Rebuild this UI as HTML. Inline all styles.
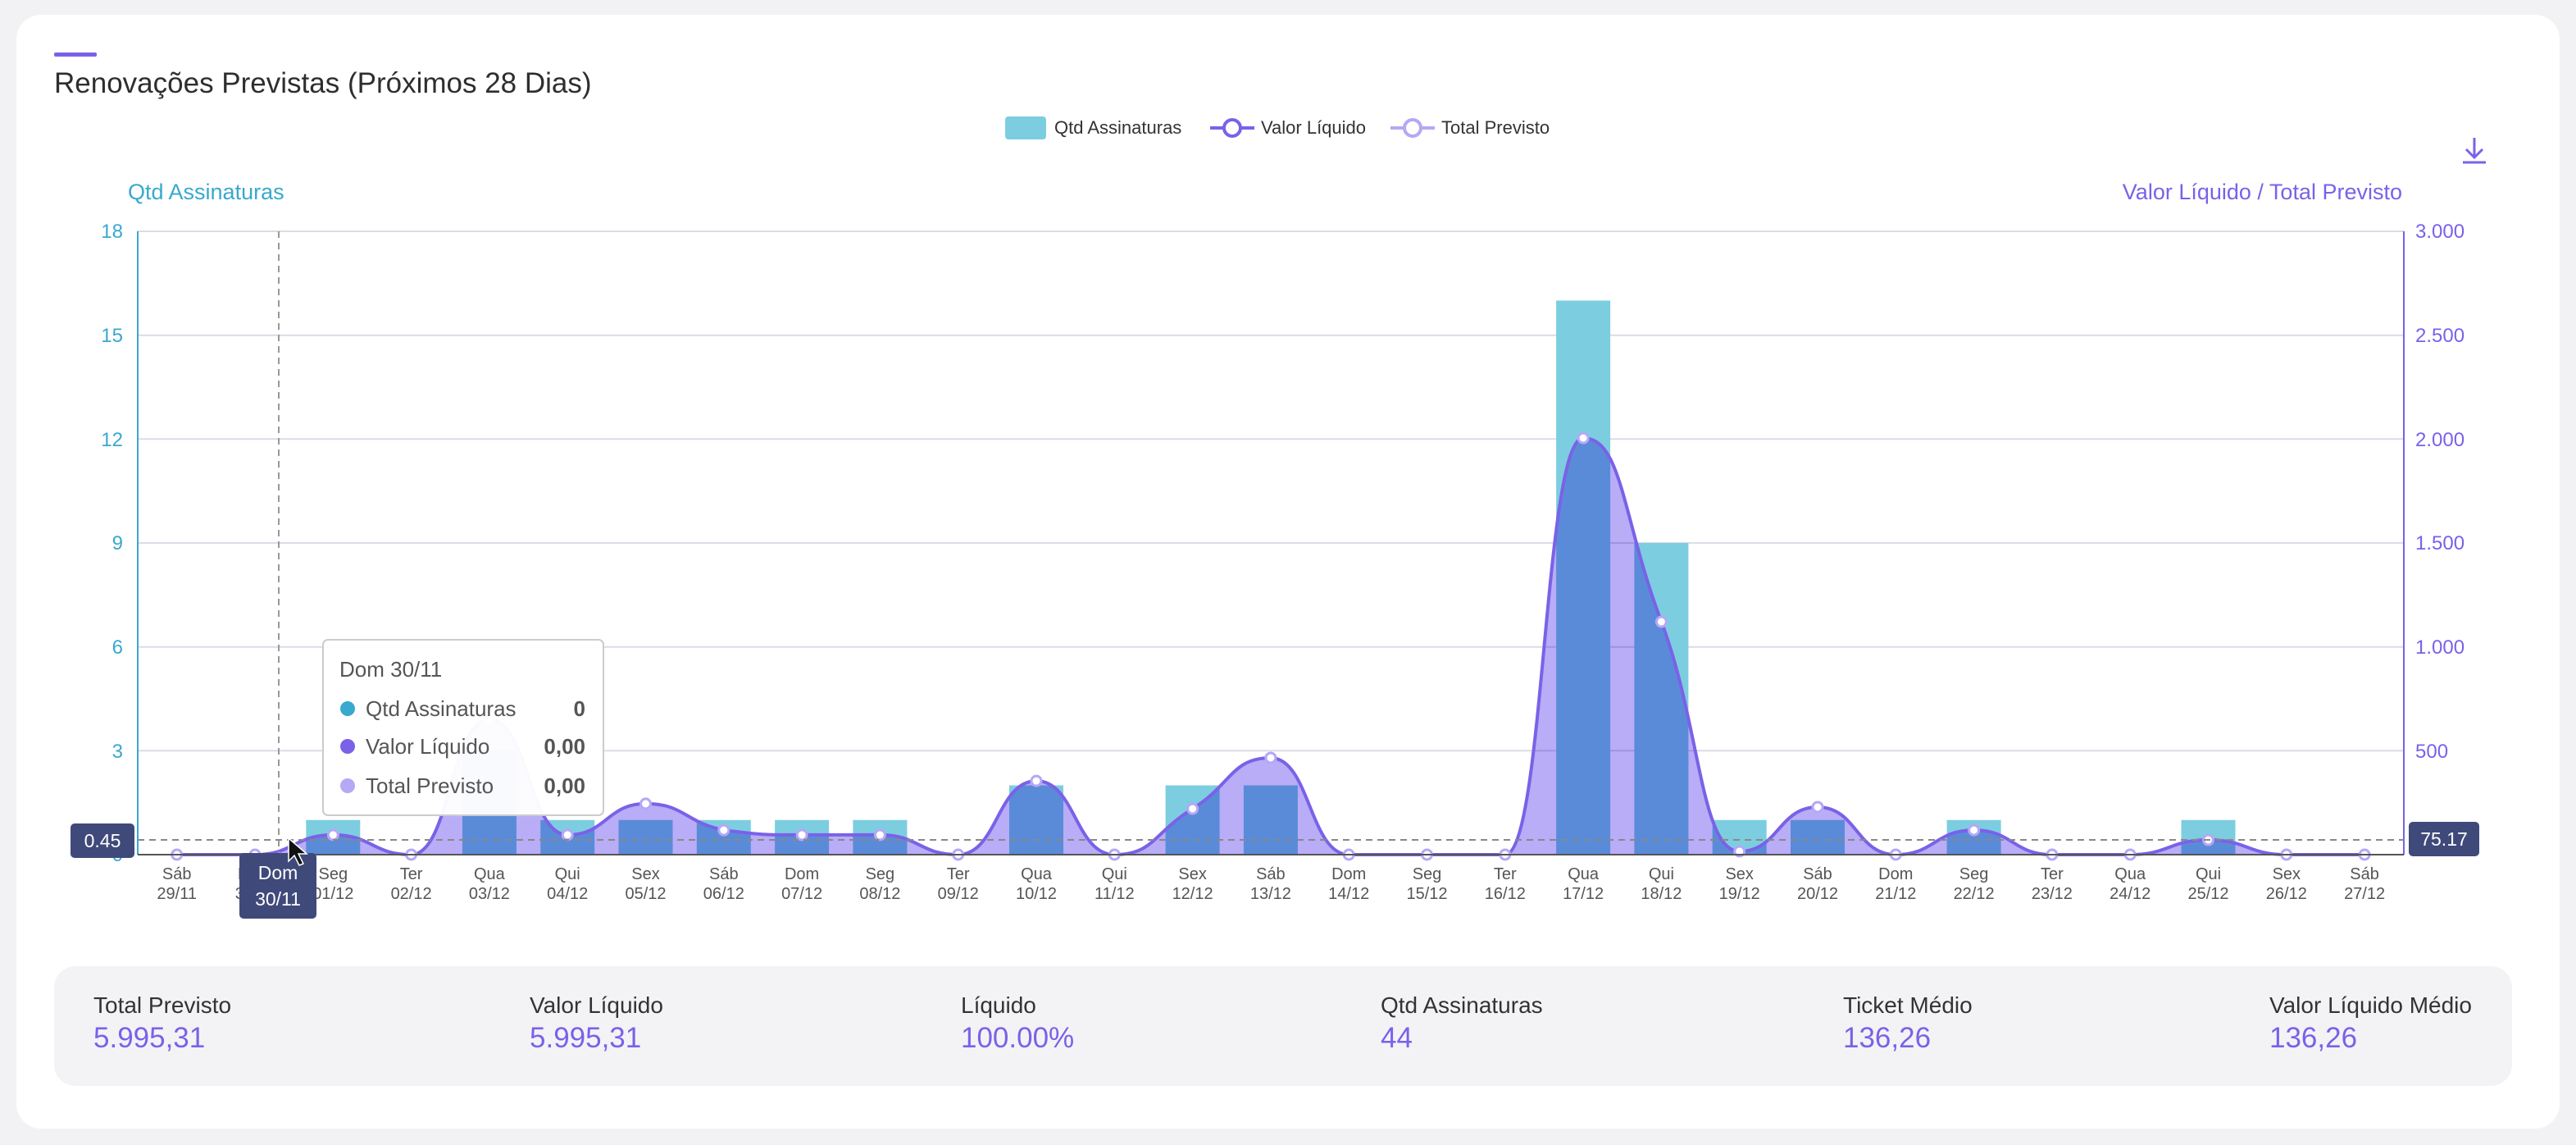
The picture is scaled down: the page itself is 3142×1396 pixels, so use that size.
<!DOCTYPE html>
<html><head><meta charset="utf-8">
<style>
html,body{margin:0;padding:0;width:3142px;height:1396px;background:#f2f2f4;overflow:hidden;font-family:"Liberation Sans",sans-serif;}
.card{position:absolute;left:20px;top:18px;width:3102px;height:1358px;background:#fff;border-radius:30px;}
.bar{position:absolute;left:66px;top:64px;width:52px;height:5px;background:#7b61e8;border-radius:2px;}
.title{position:absolute;left:66px;top:82px;font-size:35px;color:#2e2e2e;}
.sum{position:absolute;left:66px;top:1178px;width:2998px;height:146px;background:#f3f3f6;border-radius:26px;}
.it{position:absolute;top:32px;}
.it .l{font-size:28px;color:#333;}
.it .v{font-size:35px;color:#7b61e8;margin-top:4px;}
svg{position:absolute;left:0;top:0;}
</style></head><body>
<div class="card"></div>
<div class="bar"></div>
<div class="title">Renovações Previstas (Próximos 28 Dias)</div>
<svg id="s" width="3142" height="1396" viewBox="0 0 3142 1396" font-family="Liberation Sans, sans-serif">
<rect x="0" y="0" width="0" height="0"/>
<g id="grid" stroke="#dcdce6" stroke-width="2">
<line x1="168" x2="2932" y1="282" y2="282"/><line x1="168" x2="2932" y1="408.7" y2="408.7"/>
<line x1="168" x2="2932" y1="535.3" y2="535.3"/><line x1="168" x2="2932" y1="662" y2="662"/>
<line x1="168" x2="2932" y1="788.7" y2="788.7"/><line x1="168" x2="2932" y1="915.3" y2="915.3"/>
</g>
<g id="bars"></g>
<path id="area" fill="#b8adf6" stroke="none" style="mix-blend-mode:multiply"/>
<path id="line" fill="none" stroke="#7b61e8" stroke-width="4"/>
<g id="dots"></g>
<line x1="168" x2="168" y1="282" y2="1042" stroke="#3aa8cf" stroke-width="2"/>
<line x1="2932" x2="2932" y1="282" y2="1042" stroke="#7b61e8" stroke-width="2"/>
<line x1="168" x2="2932" y1="1042" y2="1042" stroke="#555" stroke-width="2"/>
<line x1="340" x2="340" y1="282" y2="1042" stroke="#999" stroke-width="2" stroke-dasharray="8,6"/>
<line x1="168" x2="2932" y1="1024" y2="1024" stroke="#888" stroke-width="2" stroke-dasharray="8,6"/>
<g font-size="24" fill="#3aa8cf" text-anchor="end">
<text x="150" y="290">18</text><text x="150" y="417">15</text><text x="150" y="544">12</text><text x="150" y="670">9</text><text x="150" y="797">6</text><text x="150" y="924">3</text><text x="150" y="1050">0</text>
</g>
<g font-size="24" fill="#7b61e8">
<text x="2946" y="290">3.000</text><text x="2946" y="417">2.500</text><text x="2946" y="544">2.000</text><text x="2946" y="670">1.500</text><text x="2946" y="797">1.000</text><text x="2946" y="924">500</text>
</g>
<text x="156" y="243" font-size="27" fill="#3aa8cf">Qtd Assinaturas</text>
<text x="2930" y="243" font-size="27" fill="#7b61e8" text-anchor="end">Valor Líquido / Total Previsto</text>
<g font-size="22" fill="#333">
<rect x="1226" y="142" width="50" height="28" rx="4" fill="#7ccde0"/>
<text x="1286" y="163">Qtd Assinaturas</text>
<line x1="1476" x2="1530" y1="156" y2="156" stroke="#7b61e8" stroke-width="4"/><circle cx="1503" cy="156" r="10" fill="#fff" stroke="#7b61e8" stroke-width="4"/>
<text x="1538" y="163">Valor Líquido</text>
<line x1="1696" x2="1750" y1="156" y2="156" stroke="#b5a8f5" stroke-width="4"/><circle cx="1723" cy="156" r="10" fill="#fff" stroke="#b5a8f5" stroke-width="4"/>
<text x="1758" y="163">Total Previsto</text>
</g>
<g stroke="#7b61e8" stroke-width="3" fill="none"><path d="M3018 168v24M3008 182l10 10 10-10M3004 198h28"/></g>
<g font-size="20" fill="#555" text-anchor="middle" id="xl">
<text x="215.7" y="1072">Sáb</text><text x="215.7" y="1096">29/11</text>
<text x="311" y="1072">Dom</text><text x="311" y="1096">30/11</text>
<text x="406.3" y="1072">Seg</text><text x="406.3" y="1096">01/12</text>
<text x="501.6" y="1072">Ter</text><text x="501.6" y="1096">02/12</text>
<text x="596.9" y="1072">Qua</text><text x="596.9" y="1096">03/12</text>
<text x="692.2" y="1072">Qui</text><text x="692.2" y="1096">04/12</text>
<text x="787.5" y="1072">Sex</text><text x="787.5" y="1096">05/12</text>
<text x="882.8" y="1072">Sáb</text><text x="882.8" y="1096">06/12</text>
<text x="978.1" y="1072">Dom</text><text x="978.1" y="1096">07/12</text>
<text x="1073.4" y="1072">Seg</text><text x="1073.4" y="1096">08/12</text>
<text x="1168.7" y="1072">Ter</text><text x="1168.7" y="1096">09/12</text>
<text x="1264" y="1072">Qua</text><text x="1264" y="1096">10/12</text>
<text x="1359.3" y="1072">Qui</text><text x="1359.3" y="1096">11/12</text>
<text x="1454.6" y="1072">Sex</text><text x="1454.6" y="1096">12/12</text>
<text x="1549.9" y="1072">Sáb</text><text x="1549.9" y="1096">13/12</text>
<text x="1645.2" y="1072">Dom</text><text x="1645.2" y="1096">14/12</text>
<text x="1740.5" y="1072">Seg</text><text x="1740.5" y="1096">15/12</text>
<text x="1835.8" y="1072">Ter</text><text x="1835.8" y="1096">16/12</text>
<text x="1931.1" y="1072">Qua</text><text x="1931.1" y="1096">17/12</text>
<text x="2026.4" y="1072">Qui</text><text x="2026.4" y="1096">18/12</text>
<text x="2121.7" y="1072">Sex</text><text x="2121.7" y="1096">19/12</text>
<text x="2217" y="1072">Sáb</text><text x="2217" y="1096">20/12</text>
<text x="2312.3" y="1072">Dom</text><text x="2312.3" y="1096">21/12</text>
<text x="2407.6" y="1072">Seg</text><text x="2407.6" y="1096">22/12</text>
<text x="2502.9" y="1072">Ter</text><text x="2502.9" y="1096">23/12</text>
<text x="2598.2" y="1072">Qua</text><text x="2598.2" y="1096">24/12</text>
<text x="2693.5" y="1072">Qui</text><text x="2693.5" y="1096">25/12</text>
<text x="2788.8" y="1072">Sex</text><text x="2788.8" y="1096">26/12</text>
<text x="2884.1" y="1072">Sáb</text><text x="2884.1" y="1096">27/12</text>
</g>
<rect x="86" y="1004" width="78" height="42" rx="5" fill="#3f4a7a"/>
<text x="125" y="1033" font-size="23" fill="#fff" text-anchor="middle">0.45</text>
<rect x="2938" y="1002" width="86" height="42" rx="5" fill="#3f4a7a"/>
<text x="2981" y="1031" font-size="23" fill="#fff" text-anchor="middle">75.17</text>
<rect x="292" y="1040" width="94" height="80" rx="5" fill="#3f4a7a"/>
<text x="339" y="1072" font-size="23" fill="#fff" text-anchor="middle">Dom</text>
<text x="339" y="1104" font-size="23" fill="#fff" text-anchor="middle">30/11</text>
<path d="M352 1022l0 28 7-7 6 12 5-2-6-12 10 0z" fill="#111" stroke="#fff" stroke-width="1.5"/>
<rect x="394" y="780" width="342" height="214" rx="6" fill="#fff" fill-opacity="0.96" stroke="#ccc" stroke-width="2"/>
<g font-size="26" fill="#555">
<text x="414" y="825">Dom 30/11</text>
<circle cx="424" cy="864" r="9" fill="#3aa8cf"/><text x="446" y="873">Qtd Assinaturas</text><text x="714" y="873" text-anchor="end" font-weight="bold">0</text>
<circle cx="424" cy="910" r="9" fill="#7b61e8"/><text x="446" y="919">Valor Líquido</text><text x="714" y="919" text-anchor="end" font-weight="bold">0,00</text>
<circle cx="424" cy="958" r="9" fill="#b5a8f5"/><text x="446" y="967">Total Previsto</text><text x="714" y="967" text-anchor="end" font-weight="bold">0,00</text>
</g>
</svg>
<div class="sum">
<div class="it" style="left:48px"><div class="l">Total Previsto</div><div class="v">5.995,31</div></div>
<div class="it" style="left:580px"><div class="l">Valor Líquido</div><div class="v">5.995,31</div></div>
<div class="it" style="left:1106px"><div class="l">Líquido</div><div class="v">100.00%</div></div>
<div class="it" style="left:1618px"><div class="l">Qtd Assinaturas</div><div class="v">44</div></div>
<div class="it" style="left:2182px"><div class="l">Ticket Médio</div><div class="v">136,26</div></div>
<div class="it" style="left:2702px"><div class="l">Valor Líquido Médio</div><div class="v">136,26</div></div>
</div>
<script>
var q=[0,0,1,0,3,1,1,1,1,1,0,2,0,2,2,0,0,0,16,9,1,1,0,1,0,0,1,0,0];
var v=[0,0,95,0,650,95,245,118,95,95,0,355,0,221,466,0,0,0,2005,1121,16,229,0,118,0,0,71,0,0];
var NS="http://www.w3.org/2000/svg";
function cx(i){return 215.7+95.3*i;}
var bars=document.getElementById('bars');
q.forEach(function(n,i){if(!n)return;var r=document.createElementNS(NS,'rect');var h=n/18*760;
r.setAttribute('x',cx(i)-33);r.setAttribute('y',1042-h);r.setAttribute('width',66);r.setAttribute('height',h);r.setAttribute('fill','#7ccde0');bars.appendChild(r);});
var p=v.map(function(a,i){return [cx(i),1042-a/3000*760];});
function cl(y,a,b){var lo=Math.min(a,b),hi=Math.max(a,b);return Math.max(lo,Math.min(hi,y));}
var d='M'+p[0][0]+' '+p[0][1];
for(var i=0;i<p.length-1;i++){var p0=p[Math.max(0,i-1)],p1=p[i],p2=p[i+1],p3=p[Math.min(p.length-1,i+2)];var s=0.25;
var c1=[p1[0]+(p2[0]-p0[0])*s,p1[1]+(p2[1]-p0[1])*s],c2=[p2[0]-(p3[0]-p1[0])*s,p2[1]-(p3[1]-p1[1])*s];
var pk1=(p1[1]<=p0[1]&&p1[1]<=p2[1])||(p1[1]>=p0[1]&&p1[1]>=p2[1]);
var pk2=(p2[1]<=p1[1]&&p2[1]<=p3[1])||(p2[1]>=p1[1]&&p2[1]>=p3[1]);
if(pk1)c1[1]=p1[1];if(pk2)c2[1]=p2[1];
c1[1]=cl(c1[1],p1[1],p2[1]);c2[1]=cl(c2[1],p1[1],p2[1]);
d+=' C'+c1[0]+' '+c1[1]+' '+c2[0]+' '+c2[1]+' '+p2[0]+' '+p2[1];}
document.getElementById('line').setAttribute('d',d);
document.getElementById('area').setAttribute('d',d+' L'+p[p.length-1][0]+' 1042 L'+p[0][0]+' 1042Z');
var dots=document.getElementById('dots');
p.forEach(function(a){var c=document.createElementNS(NS,'circle');c.setAttribute('cx',a[0]);c.setAttribute('cy',a[1]);c.setAttribute('r',6);c.setAttribute('fill','#fff');c.setAttribute('stroke','#b5a8f5');c.setAttribute('stroke-width',3);dots.appendChild(c);});
</script>
</body></html>
